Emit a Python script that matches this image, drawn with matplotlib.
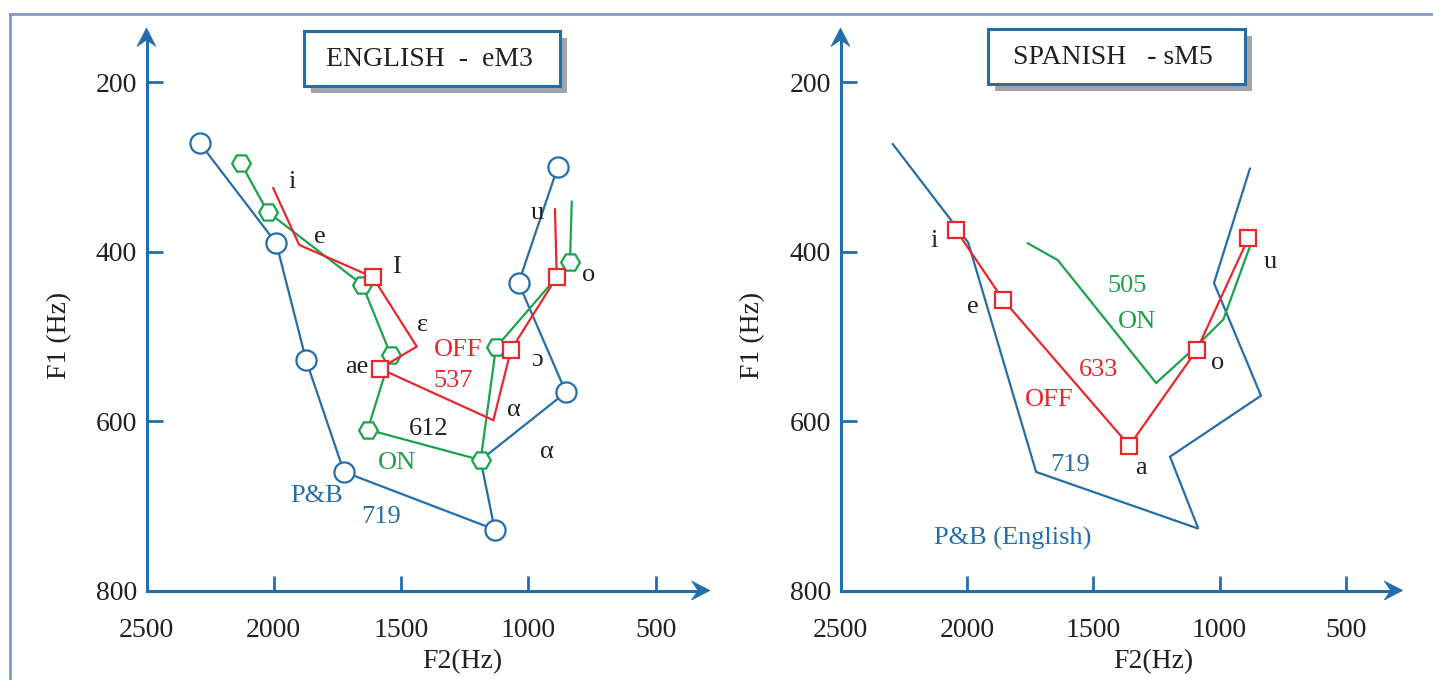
import matplotlib
matplotlib.use("Agg")
import matplotlib.pyplot as plt
from matplotlib.patches import Rectangle, Polygon
from matplotlib.lines import Line2D

W, H, DPI = 1433, 680, 100

BLUE = "#236eaa"
RED = "#e6282d"
GREEN = "#1ba34b"
INK = "#231f20"
FRAME = "#7b94c2"
SHADOW = "#a0a4a8"
SERIF = ["Liberation Serif", "DejaVu Serif"]

plt.rcParams["font.family"] = SERIF

# ---------------- data ----------------
f2_ticks = [2500, 2000, 1500, 1000, 500]
f1_ticks = [200, 400, 600, 800]

# English speaker eM3
pb_en_f2 = [2290, 1990, 1873, 1724, 1132, 1187, 852, 1038, 884]
pb_en_f1 = [272, 390, 528, 660, 728, 646, 566, 437, 300]
pb_en_marked = [0, 1, 2, 3, 4, 6, 7, 8]

on_en_f2 = [2130, 2024, 1652, 1540, 1631, 1187, 1127, 836, 829]
on_en_f1 = [295, 353, 439, 522, 610, 646, 513, 412, 341]
on_en_marked = [0, 1, 2, 3, 4, 5, 6, 7]

off_en_f2 = [2002, 1900, 1611, 1438, 1583, 1137, 1068, 888, 895]
off_en_f1 = [325, 392, 430, 512, 538, 599, 516, 430, 350]
off_en_marked = [2, 4, 6, 7]

# Spanish speaker sM5
pb_es_f2 = [2293, 1995, 1726, 1084, 1196, 836, 1022, 880]
pb_es_f1 = [273, 389, 660, 727, 642, 570, 437, 302]

on_es_f2 = [1759, 1640, 1251, 1100, 985, 880]
on_es_f1 = [390, 410, 555, 514, 480, 394]

off_es_f2 = [2044, 1856, 1357, 1090, 886]
off_es_f1 = [374, 457, 629, 516, 384]

# text annotations: (text, F2, F1, colour)
notes_en = [
    ("i", 1928, 318, INK), ("e", 1818, 383, INK), ("I", 1516, 418, INK),
    ("\u03b5", 1417, 487, INK), ("ae", 1673, 536, INK), ("\u03b1", 1056, 587, INK),
    ("\u0254", 966, 528, INK), ("u", 966, 354, INK), ("o", 761, 428, INK),
    ("\u03b1", 926, 636, INK), ("612", 1390, 609, INK),
    ("OFF", 1276, 516, RED), ("537", 1296, 553, RED),
    ("ON", 1516, 649, GREEN),
    ("P&B", 1830, 689, BLUE), ("719", 1579, 713, BLUE),
]
notes_es = [
    ("i", 2130, 387, INK), ("e", 1976, 465, INK), ("a", 1312, 655, INK),
    ("o", 1006, 531, INK), ("u", 798, 412, INK),
    ("505", 1367, 441, GREEN), ("ON", 1327, 483, GREEN),
    ("633", 1477, 540, RED), ("OFF", 1675, 575, RED),
    ("719", 1592, 652, BLUE), ("P&B (English)", 1817, 738, BLUE),
]

# ---------------- layout ----------------
Y_AXIS_PIX = 590.5      # pixel row of the F1 = 800 axis
Y_PX_PER_HZ = 0.847
Y_TIP_PIX = 28
X_PX_PER_HZ = (0.2545, 0.2527)
X_ORIGIN_PIX = (146.5, 840.5)
X_TIP_PIX = (710, 1402.7)

fig = plt.figure(figsize=(W / DPI, H / DPI), dpi=DPI)
fig.patch.set_facecolor("white")


def make_panel(i):
    x0, tip, s = X_ORIGIN_PIX[i], X_TIP_PIX[i], X_PX_PER_HZ[i]
    x_end = tip - 8
    y_top = Y_TIP_PIX + 8
    ax = fig.add_axes([x0 / W, 1 - Y_AXIS_PIX / H,
                       (x_end - x0) / W, (Y_AXIS_PIX - y_top) / H])
    ax.set_xlim(2500, 2500 - (x_end - x0) / s)
    ax.set_ylim(800, 800 - (Y_AXIS_PIX - y_top) / Y_PX_PER_HZ)
    ax.patch.set_visible(False)
    for side in ("top", "right"):
        ax.spines[side].set_visible(False)
    for side in ("left", "bottom"):
        ax.spines[side].set_color(BLUE)
        ax.spines[side].set_linewidth(2.2)
    ax.set_xticks(f2_ticks)
    ax.set_yticks(f1_ticks)
    ax.tick_params(axis="x", direction="in", length=10.5, width=2,
                   color=BLUE, labelsize=20, labelcolor=INK, pad=20)
    ax.tick_params(axis="y", direction="in", length=11.5, width=2,
                   color=BLUE, labelsize=20, labelcolor=INK, pad=7)
    return ax


def series(ax, f2, f1, color, marker=None, ms=0, marked=None, z=3):
    ax.plot(f2, f1, color=color, lw=1.6, zorder=z, clip_on=False,
            solid_joinstyle="miter")
    if marker:
        ax.plot([f2[k] for k in marked], [f1[k] for k in marked],
                ls="none", marker=marker, ms=ms, mfc="white", mec=color,
                mew=1.6, zorder=z + 0.5, clip_on=False)


def notes(ax, items):
    for txt, x, y, c in items:
        ax.text(x, y, txt, color=c, fontsize=19, ha="center", va="center",
                family=SERIF, zorder=6)


ax_en = make_panel(0)
series(ax_en, pb_en_f2, pb_en_f1, BLUE, "o", 14.5, pb_en_marked, 3)
series(ax_en, on_en_f2, on_en_f1, GREEN, "H", 13.5, on_en_marked, 4)
series(ax_en, off_en_f2, off_en_f1, RED, "s", 11.5, off_en_marked, 5)
notes(ax_en, notes_en)

ax_es = make_panel(1)
series(ax_es, pb_es_f2, pb_es_f1, BLUE, z=3)
series(ax_es, on_es_f2, on_es_f1, GREEN, z=4)
series(ax_es, off_es_f2, off_es_f1, RED, "s", 11.5,
       list(range(len(off_es_f2))), 5)
notes(ax_es, notes_es)

# ---------------- overlay: frame, arrows, titles, axis names ----------------
ov = fig.add_axes([0, 0, 1, 1])
ov.set_xlim(0, W)
ov.set_ylim(H, 0)
ov.axis("off")
ov.patch.set_visible(False)

ov.add_line(Line2D([10, W], [13.5, 13.5], color=FRAME, lw=1.9))
ov.add_line(Line2D([10, 10], [13.5, H], color=FRAME, lw=1.9))


def arrow_right(tx, ty):
    ov.add_patch(Polygon([(tx, ty), (tx - 18.5, ty - 9.5), (tx - 12, ty),
                          (tx - 18.5, ty + 9.5)], closed=True,
                         fc=BLUE, ec=BLUE, lw=0.5, zorder=10))


def arrow_up(tx, ty):
    ov.add_patch(Polygon([(tx, ty), (tx - 9.5, ty + 18.5), (tx, ty + 12),
                          (tx + 9.5, ty + 18.5)], closed=True,
                         fc=BLUE, ec=BLUE, lw=0.5, zorder=10))


for i in range(2):
    arrow_right(X_TIP_PIX[i], Y_AXIS_PIX)
    arrow_up(X_ORIGIN_PIX[i], Y_TIP_PIX)


def title_box(x0, y0, x1, y1, text, cx):
    ov.add_patch(Rectangle((x0 + 7, y0 + 7), x1 - x0, y1 - y0,
                           fc=SHADOW, ec="none", zorder=7))
    ov.add_patch(Rectangle((x0, y0), x1 - x0, y1 - y0, fc="white",
                           ec=BLUE, lw=2.2, zorder=8))
    ov.text(cx, (y0 + y1) / 2 + 1, text, fontsize=20, color=INK,
            ha="center", va="center", zorder=9)


title_box(304, 31, 560, 86, "ENGLISH  -  eM3", 429)
title_box(988, 29, 1245, 84, "SPANISH   - sM5", 1113)

for cx in (60, 753):
    ov.text(cx, 335, "F1 (Hz)", rotation=90, fontsize=20, color=INK,
            ha="center", va="center")
for cx in (462, 1153):
    ov.text(cx, 662, "F2(Hz)", fontsize=20, color=INK,
            ha="center", va="center")

fig.savefig("out.png", dpi=DPI)
